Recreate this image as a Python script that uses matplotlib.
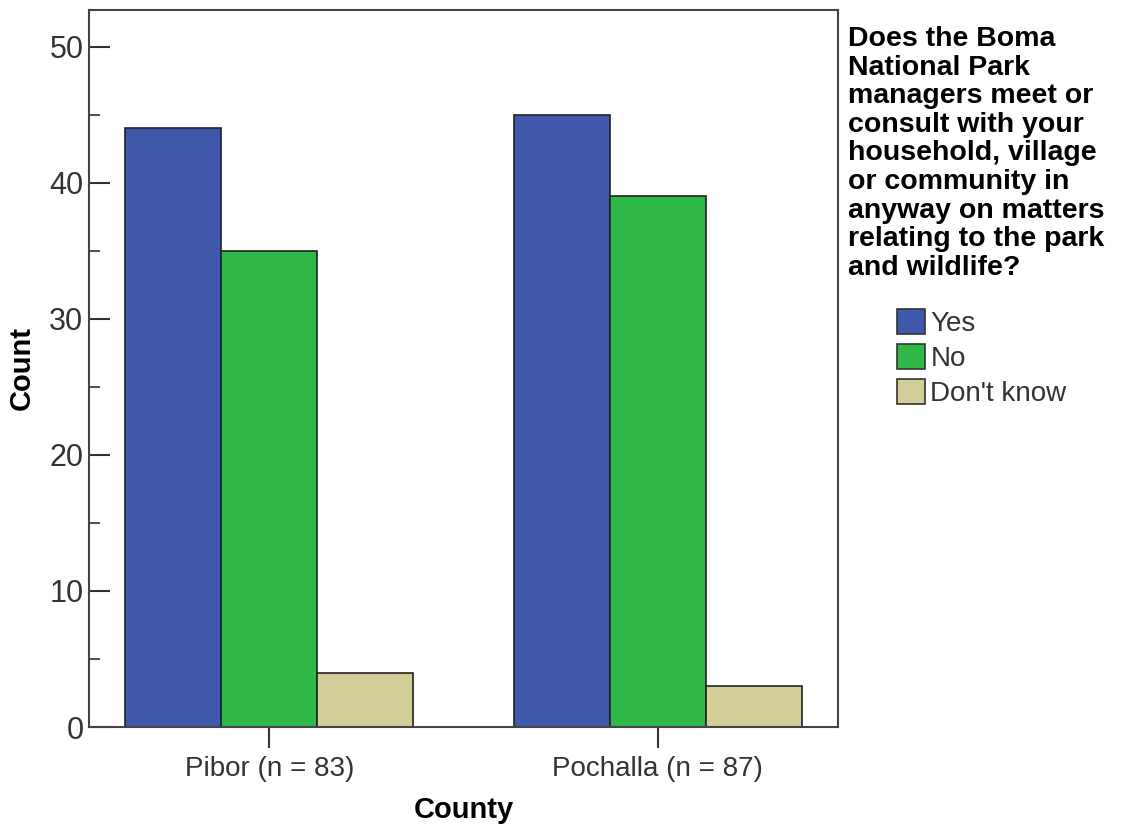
import numpy as np
import matplotlib.pyplot as plt
from matplotlib.patches import Patch
from matplotlib.ticker import MultipleLocator

plt.rcParams['font.family'] = ['Liberation Sans', 'DejaVu Sans']

# data
counties = ['Pibor (n = 83)', 'Pochalla (n = 87)']
answers = ['Yes', 'No', "Don't know"]
yes_counts = [44, 45]
no_counts = [35, 39]
dontknow_counts = [4, 3]
colors = ['#3E58AC', '#2EB848', '#D3CE97']
legend_title = ('Does the Boma\nNational Park\nmanagers meet or\nconsult with your\n'
                'household, village\nor community in\nanyway on matters\n'
                'relating to the park\nand wildlife?')

fig = plt.figure(figsize=(11.24, 8.32), dpi=100)
ax = fig.add_axes([0.0792, 0.1262, 0.6664, 0.8618])

x = np.arange(len(counties))
w = 0.247
series = [yes_counts, no_counts, dontknow_counts]
for i, vals in enumerate(series):
    ax.bar(x + (i - 1) * w, vals, width=w, color=colors[i],
           edgecolor='#222222', linewidth=1.2, zorder=2)

ax.set_xlim(-0.464, 1.464)
ax.set_ylim(0, 52.7)
ax.set_xticks(x)
ax.set_xticklabels(counties)
ax.yaxis.set_major_locator(MultipleLocator(10))
ax.yaxis.set_minor_locator(MultipleLocator(5))

ax.tick_params(axis='y', which='major', direction='in', length=15, width=1.5,
               labelsize=22, labelcolor='#333333', color='#333333', pad=4)
ax.tick_params(axis='y', which='minor', direction='in', length=8, width=1.2,
               color='#333333')
ax.tick_params(axis='x', direction='out', length=15, width=1.5,
               labelsize=20, labelcolor='#333333', color='#333333', pad=6)

for s in ax.spines.values():
    s.set_color('#444444')
    s.set_linewidth(1.5)

ax.set_ylabel('Count', fontsize=21, fontweight='bold', labelpad=10)
ax.set_xlabel('County', fontsize=21, fontweight='bold', labelpad=10)

fig.text(848 / 1124, 1 - 26 / 832, legend_title, fontsize=20.5, fontweight='bold',
         ha='left', va='top', linespacing=1.13)

handles = [Patch(facecolor=c, edgecolor='#333333', linewidth=1.2) for c in colors]
leg = fig.legend(handles, answers, loc='upper left',
                 bbox_to_anchor=(897 / 1124, 1 - 309 / 832), frameon=False,
                 fontsize=20, handlelength=1.0, handleheight=1.0,
                 handletextpad=0.2, labelspacing=0.25, borderpad=0, borderaxespad=0)
for t in leg.get_texts():
    t.set_color('#333333')

fig.savefig('out.png', dpi=100)
